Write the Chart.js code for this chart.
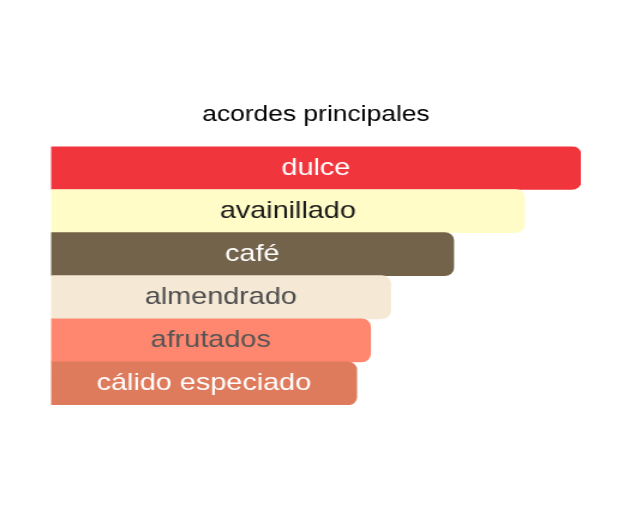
<!DOCTYPE html>
<html lang="es">
<head>
    <meta charset="UTF-8">
    <title>acordes principales</title>
    <script src="https://cdn.jsdelivr.net/npm/chart.js"></script>
    <style>
        html, body {
            margin: 0;
            padding: 0;
            background: #ffffff;
        }
        #accordsChart {
            display: block;
        }
    </style>
</head>
<body>
    <!-- the reference is drawn wider than it is tall, so the canvas is stretched sideways (inline style so Chart.js keeps it) -->
    <canvas id="accordsChart" width="520" height="522" style="width: 624px; height: 522px;"></canvas>

    <script>
        const accords = ['dulce', 'avainillado', 'café', 'almendrado', 'afrutados', 'cálido especiado'];
        const strengths = [100, 89.4, 76.0, 64.1, 60.3, 57.7];
        const barColors = ['#F0353D', '#FFFCC7', '#73634A', '#F5E9D6', '#FF876F', '#DE7B5C'];
        const textColors = ['#ffffff', '#1a1a1a', '#ffffff', '#4d4d4d', '#555555', '#ffffff'];

        // writes the accord name in the middle of each bar
        const barNames = {
            id: 'barNames',
            afterDatasetsDraw(chart) {
                const ctx = chart.ctx;
                const meta = chart.getDatasetMeta(0);
                ctx.save();
                ctx.font = '24px "Liberation Sans", Arial, sans-serif';
                ctx.textAlign = 'center';
                ctx.textBaseline = 'middle';
                meta.data.forEach((bar, i) => {
                    ctx.fillStyle = textColors[i];
                    ctx.fillText(chart.data.labels[i], (bar.base + bar.x) / 2, bar.y);
                });
                ctx.restore();
            }
        };

        const ctx = document.getElementById('accordsChart').getContext('2d');
        new Chart(ctx, {
            type: 'bar',
            data: {
                labels: accords,
                datasets: [{
                    data: strengths,
                    backgroundColor: barColors,
                    borderWidth: 0,
                    borderRadius: 8,
                    barPercentage: 1,
                    categoryPercentage: 1
                }]
            },
            options: {
                indexAxis: 'y',
                responsive: false,
                animation: false,
                layout: {
                    padding: { top: 102, bottom: 117, left: 42.5, right: 36 }
                },
                scales: {
                    x: { display: false, min: 0, max: 100 },
                    y: { display: false }
                },
                plugins: {
                    legend: { display: false },
                    tooltip: { enabled: false },
                    title: {
                        display: true,
                        text: 'acordes principales',
                        color: '#000000',
                        font: { family: '"Liberation Sans", Arial, sans-serif', size: 22, weight: 'normal' },
                        padding: { top: 0, bottom: 18 }
                    }
                }
            },
            plugins: [barNames]
        });
    </script>
</body>
</html>
